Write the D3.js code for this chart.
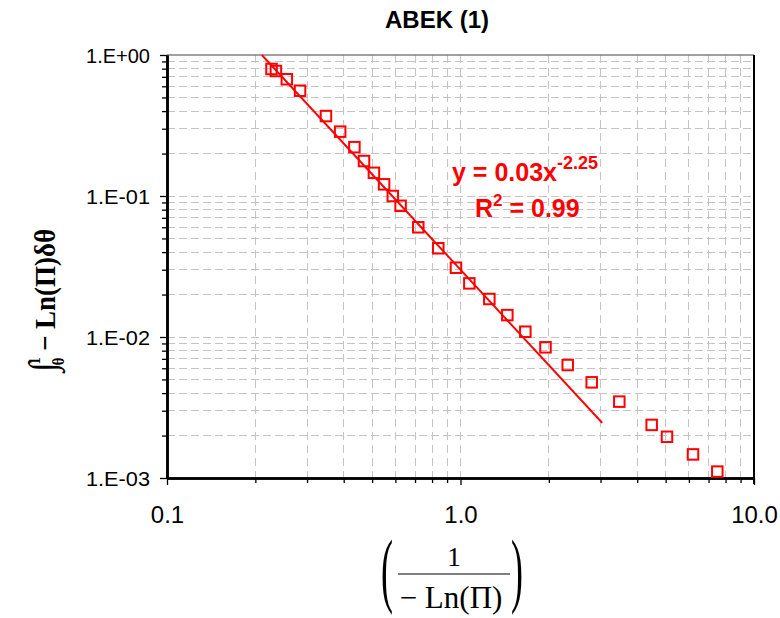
<!DOCTYPE html>
<html>
<head>
<meta charset="utf-8">
<script src="https://cdn.jsdelivr.net/npm/d3@7"></script>
<style>
  html, body { margin: 0; padding: 0; background: #fff; }
  svg { display: block; }
</style>
</head>
<body>
<svg id="chart" width="780" height="618"></svg>
<script>
// Measured series: x = 1/(-Ln(Π)), y = integral value
const xValues = [0.227, 0.235, 0.256, 0.284, 0.348, 0.389, 0.435, 0.469, 0.507, 0.549,
                 0.588, 0.625, 0.718, 0.840, 0.965, 1.072, 1.254, 1.444, 1.663, 1.948,
                 2.319, 2.799, 3.476, 4.481, 5.053, 6.197, 7.499];
const yValues = [0.796, 0.770, 0.673, 0.558, 0.369, 0.286, 0.222, 0.177, 0.146, 0.121,
                 0.100, 0.0852, 0.0600, 0.0426, 0.0310, 0.0240, 0.0186, 0.0143, 0.0109, 0.00845,
                 0.00633, 0.00477, 0.00348, 0.00238, 0.00196, 0.00147, 0.00111];

// Power-law trendline y = a * x^b and its fitted range
const trendCoef = 0.03;
const trendExp = -2.25;
const trendR2 = 0.99;
const trendRange = [0.2, 3.04];

// Axis ticks
const xMajorTicks = [0.1, 1, 10];
const xTickLabels = ["0.1", "1.0", "10.0"];
const yMajorTicks = [1, 0.1, 0.01, 0.001];
const yTickLabels = ["1.E+00", "1.E-01", "1.E-02", "1.E-03"];

const title = "ABEK (1)";

const svg = d3.select("#chart");
const margin = { left: 167, right: 26, top: 55, bottom: 140 };
const W = 780, H = 618;
const plotW = W - margin.left - margin.right;   // 587
const plotH = H - margin.top - margin.bottom;   // 423

const x = d3.scaleLog().domain([0.1, 10]).range([margin.left, margin.left + plotW]);
const y = d3.scaleLog().domain([0.001, 1]).range([margin.top + plotH, margin.top]);

// minor values: 2..9 within each decade
function minors(lo, hi) {
  const out = [];
  for (let d = lo; d < hi; d *= 10) for (let k = 2; k <= 9; k++) out.push(d * k);
  return out;
}
const xMinor = minors(0.1, 10);
const yMinor = minors(0.001, 1);

const gridColor = "#c4c4c4";
const grid = svg.append("g").attr("class", "grid");

// vertical gridlines
grid.selectAll("line.vx")
  .data(xMinor.concat([1]))
  .join("line")
  .attr("x1", d => x(d)).attr("x2", d => x(d))
  .attr("y1", margin.top).attr("y2", margin.top + plotH)
  .attr("stroke", gridColor).attr("stroke-width", 1)
  .attr("stroke-dasharray", "8,5")
  .attr("shape-rendering", "crispEdges");

// horizontal gridlines
grid.selectAll("line.hy")
  .data(yMinor.concat([0.1, 0.01]))
  .join("line")
  .attr("x1", margin.left).attr("x2", margin.left + plotW)
  .attr("y1", d => y(d)).attr("y2", d => y(d))
  .attr("stroke", gridColor).attr("stroke-width", 1)
  .attr("stroke-dasharray", "8,4")
  .attr("shape-rendering", "crispEdges");

// top border (grey) and right border (black)
svg.append("line")
  .attr("x1", margin.left).attr("x2", margin.left + plotW)
  .attr("y1", margin.top).attr("y2", margin.top)
  .attr("stroke", "#808080").attr("stroke-width", 1.5);
svg.append("line")
  .attr("x1", margin.left + plotW).attr("x2", margin.left + plotW)
  .attr("y1", margin.top).attr("y2", margin.top + plotH + 6)
  .attr("stroke", "#000").attr("stroke-width", 2);

// axes: minor ticks first, then major with labels
const axisFont = "'Liberation Sans', Arial, sans-serif";

const xMinorAxis = svg.append("g")
  .attr("transform", `translate(0,${margin.top + plotH})`)
  .call(d3.axisBottom(x).tickValues(xMinor).tickFormat("").tickSize(5).tickSizeOuter(0));
const xMajorAxis = svg.append("g")
  .attr("transform", `translate(0,${margin.top + plotH})`)
  .call(d3.axisBottom(x).tickValues(xMajorTicks)
        .tickFormat((d, i) => xTickLabels[i]).tickSize(7).tickSizeOuter(0).tickPadding(21));

const yMinorAxis = svg.append("g")
  .attr("transform", `translate(${margin.left},0)`)
  .call(d3.axisLeft(y).tickValues(yMinor).tickFormat("").tickSize(5).tickSizeOuter(0));
const yMajorAxis = svg.append("g")
  .attr("transform", `translate(${margin.left},0)`)
  .call(d3.axisLeft(y).tickValues(yMajorTicks)
        .tickFormat((d, i) => yTickLabels[i]).tickSize(7).tickSizeOuter(0).tickPadding(10));

[xMinorAxis, xMajorAxis, yMinorAxis, yMajorAxis].forEach(g => {
  g.attr("font-family", axisFont);
  g.select(".domain").attr("stroke", "#000").attr("stroke-width", 2.5);
  g.selectAll(".tick line").attr("stroke", "#000").attr("stroke-width", 1.3);
  g.selectAll(".tick text").attr("fill", "#000");
});
xMajorAxis.attr("font-size", 24);
yMajorAxis.attr("font-size", 21);
yMajorAxis.selectAll(".tick text")
  .attr("dy", "0.36em")
  .attr("textLength", 64)
  .attr("lengthAdjust", "spacingAndGlyphs");

// trendline
const trendPts = d3.range(0, 201).map(i => {
  const lx = Math.log10(trendRange[0]) + (Math.log10(trendRange[1]) - Math.log10(trendRange[0])) * i / 200;
  const xv = Math.pow(10, lx);
  return [xv, trendCoef * Math.pow(xv, trendExp)];
}).filter(p => p[1] <= 1);
// start exactly at the top edge
const xTop = Math.pow(1 / trendCoef, 1 / trendExp);
trendPts.unshift([xTop, 1]);

svg.append("path")
  .datum(trendPts)
  .attr("fill", "none")
  .attr("stroke", "#ff0000")
  .attr("stroke-width", 2)
  .attr("d", d3.line().x(d => x(d[0])).y(d => y(d[1])));

// data markers: hollow squares
const sq = 10.5;
svg.append("g")
  .selectAll("rect")
  .data(xValues.map((v, i) => [v, yValues[i]]))
  .join("rect")
  .attr("x", d => x(d[0]) - sq / 2)
  .attr("y", d => y(d[1]) - sq / 2)
  .attr("width", sq).attr("height", sq)
  .attr("fill", "none")
  .attr("stroke", "#ff0000")
  .attr("stroke-width", 2);

// title
svg.append("text")
  .attr("x", 437).attr("y", 28)
  .attr("text-anchor", "middle")
  .style("font-family", axisFont)
  .style("font-weight", "bold")
  .style("font-size", "24px")
  .text(title);

// trendline equation
const eq = svg.append("g")
  .style("font-family", axisFont)
  .style("font-weight", "bold")
  .style("font-size", "25px")
  .attr("fill", "#ff0000");
const eq1 = eq.append("text").attr("x", 452).attr("y", 181);
eq1.append("tspan").text(`y = ${trendCoef}x`);
eq1.append("tspan").attr("dy", -12).style("font-size", "18px").text(`${trendExp}`);
const eq2 = eq.append("text").attr("x", 475).attr("y", 217);
eq2.append("tspan").text("R");
eq2.append("tspan").attr("dy", -11).style("font-size", "17px").text("2");
eq2.append("tspan").attr("dy", 11).text(` = ${trendR2}`);

// y-axis title: ∫ from θ to 1 of −Ln(Π) dθ, read bottom to top
const serif = "'Liberation Serif', 'Times New Roman', 'DejaVu Serif', serif";
const yTitle = svg.append("text")
  .attr("transform", `translate(55,372) rotate(-90) scale(0.9,1)`)
  .attr("text-anchor", "start")
  .style("font-family", serif)
  .style("font-weight", "bold")
  .style("font-size", "30px")
  .attr("fill", "#000");
yTitle.append("tspan").style("font-size", "38px").text("∫");
yTitle.append("tspan").attr("dy", -15).attr("dx", -2).style("font-size", "16px").text("1");
yTitle.append("tspan").attr("dy", 24).attr("dx", -9).style("font-size", "16px").text("θ");
yTitle.append("tspan").attr("dy", -9).text(" − Ln(Π)δθ");

// x-axis title: 1 / (−Ln(Π)) in tall parentheses
const xt = svg.append("g")
  .style("font-family", serif)
  .attr("fill", "#000");
xt.append("text")
  .attr("x", 454).attr("y", 566)
  .attr("text-anchor", "middle")
  .style("font-size", "27px")
  .text("1");
xt.append("line")
  .attr("x1", 398).attr("x2", 510)
  .attr("y1", 574).attr("y2", 574)
  .attr("stroke", "#000").attr("stroke-width", 1.2);
xt.append("text")
  .attr("x", 451).attr("y", 608)
  .attr("text-anchor", "middle")
  .style("font-size", "31px")
  .text("− Ln(Π)");
xt.append("text")
  .attr("transform", "translate(381,597) scale(1,2.3)")
  .style("font-size", "36px")
  .text("(");
xt.append("text")
  .attr("transform", "translate(511,597) scale(1,2.3)")
  .style("font-size", "36px")
  .text(")");
</script>
</body>
</html>
